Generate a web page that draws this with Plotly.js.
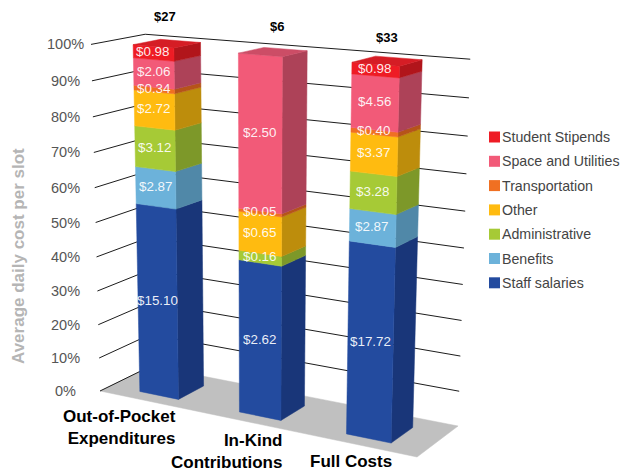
<!DOCTYPE html>
<html><head><meta charset="utf-8">
<script src="https://cdn.plot.ly/plotly-3.0.1.min.js"></script>
<style>html,body{margin:0;padding:0;background:#fff}</style></head>
<body><div id="chart" style="width:621px;height:471px"></div>
<script>
// ---- data ----
const categories = ["Out-of-Pocket<br>Expenditures", "In-Kind<br>Contributions", "Full Costs"];
const totals = ["$27", "$6", "$33"];
const seriesNames = ["Staff salaries", "Benefits", "Administrative", "Other", "Transportation", "Space and Utilities", "Student Stipends"];
const staffSalaries = [15.10, 2.62, 17.72];
const benefits = [2.87, 0, 2.87];
const administrative = [3.12, 0.16, 3.28];
const other = [2.72, 0.65, 3.37];
const transportation = [0.34, 0.05, 0.40];
const spaceUtilities = [2.06, 2.50, 4.56];
const studentStipends = [0.98, 0, 0.98];
const percentTicks = [0, 10, 20, 30, 40, 50, 60, 70, 80, 90, 100];
const frontColors = ["#234b9f", "#6cb2da", "#a6ca36", "#ffbb10", "#f07022", "#f25a78", "#ee1c25"];
const sideColors = ["#193679", "#5088a8", "#7d9829", "#bd8d0c", "#b65419", "#ad4258", "#b1151b"];
const topColors = ["#1e4088", "#5c9abd", "#8fae2e", "#d9a00e", "#cf601d", "#cc4d66", "#d51d25"];

const allSeries = [staffSalaries, benefits, administrative, other, transportation, spaceUtilities, studentStipends];

// ---- perspective of the 3-D box: u across, v into the page, h height fraction ----
const CAM = [[273.8, 58, -13.9, 100], [18.6, -8, -349, 391], [-0.1037, 0.0464, -0.054, 1]];
function proj(u, v, h) {
  const r = CAM.map(m => m[0]*u + m[1]*v + m[2]*h + m[3]);
  return [r[0]/r[2], r[1]/r[2]];
}
const barCentres = [1/6, 1/2, 5/6], halfW = 0.066, vFront = 0.21, vBack = 0.72;
const FONT = "Liberation Sans, Arial, sans-serif";
const totalNudgeX = [-2.5, 4, 0], totalNudgeY = [-27, -25, -24];
const catNudgeX = [0, 3, 3], catNudgeY = [28, 31, 18.5];

const traces = [], annotations = [];
function poly(pts, color, layerName) {
  traces.push({type:"scatter", mode:"lines", fill:"toself", fillcolor:color,
    x: pts.map(p=>p[0]).concat([pts[0][0]]), y: pts.map(p=>p[1]).concat([pts[0][1]]),
    line:{color:color, width:0.5}, hoverinfo:"skip", showlegend:false, name:layerName||""});
}
function note(x, y, text, size, color, opts) {
  annotations.push(Object.assign({xref:"x", yref:"y", x:x, y:y, text:text, showarrow:false,
    font:{family:FONT, size:size, color:color}, xanchor:"center", yanchor:"middle"}, opts||{}));
}

// floor
poly([proj(0,0,0), proj(1,0,0), proj(1,1,0), proj(0,1,0)], "#c0c0c0", "floor");

// grid lines on side and back walls
percentTicks.forEach(t => {
  const h = t/100;
  const pts = t === 0 ? [proj(0,0,0), proj(0,1,0)] : [proj(0,0,h), proj(0,1,h), proj(1,1,h)];
  traces.push({type:"scatter", mode:"lines", x:pts.map(p=>p[0]), y:pts.map(p=>p[1]),
    line:{color:"#1c1c1c", width:1}, hoverinfo:"skip", showlegend:false});
  note(65, proj(0,0,h)[1], t + "%", 14.5, "#555555");
});

// bars
categories.forEach((cat, c) => {
  const total = allSeries.reduce((s, a) => s + a[c], 0);
  const uL = barCentres[c]-halfW, uR = barCentres[c]+halfW;
  let acc = 0, topIdx = 0;
  allSeries.forEach((arr, s) => {
    if (!arr[c]) return;
    const h0 = acc/total, h1 = (acc+arr[c])/total;
    acc += arr[c]; topIdx = s;
    poly([proj(uR,vFront,h0), proj(uR,vBack,h0), proj(uR,vBack,h1), proj(uR,vFront,h1)], sideColors[s]);
    poly([proj(uL,vFront,h0), proj(uR,vFront,h0), proj(uR,vFront,h1), proj(uL,vFront,h1)], frontColors[s]);
    const m = proj(barCentres[c], vFront, (h0+h1)/2);
    note(m[0], m[1]-1.5, "$" + arr[c].toFixed(2), 13.4, "rgba(255,255,255,0.92)");
  });
  poly([proj(uL,vFront,1), proj(uR,vFront,1), proj(uR,vBack,1), proj(uL,vBack,1)], topColors[topIdx]);
  const top = proj(barCentres[c], (vFront+vBack)/2, 1);
  note(top[0]+totalNudgeX[c], top[1]+totalNudgeY[c], totals[c], 13, "#000000", {font:{family:FONT, size:13, color:"#000", weight:700}});
  const base = proj(uR, vFront, 0);
  note(base[0]+catNudgeX[c], base[1] + catNudgeY[c], "<b>"+cat+"</b>", 17, "#000000",
    {xanchor:"right", align:"right"});
});

// key
seriesNames.forEach((name, s) => {
  const row = seriesNames.length-1-s, y = 137 + row*24.3;
  traces.push({type:"scatter", mode:"markers", x:[494.5], y:[y], name:name,
    marker:{symbol:"square", size:11, color:frontColors[s]}, hoverinfo:"name", showlegend:false});
  note(500, y, name, 14.2, "#444444", {xanchor:"left"});
});

// y axis title
note(18, 256, "<b>Average daily cost per slot</b>", 17, "#b5b5b5", {textangle:-90});

Plotly.newPlot("chart", traces, {
  width:621, height:471, margin:{l:0,r:0,t:0,b:0}, showlegend:false,
  paper_bgcolor:"#fff", plot_bgcolor:"#fff",
  xaxis:{range:[0,621], visible:false, fixedrange:true},
  yaxis:{range:[471,0], visible:false, fixedrange:true},
  annotations:annotations
}, {displayModeBar:false, staticPlot:true});
</script></body></html>
